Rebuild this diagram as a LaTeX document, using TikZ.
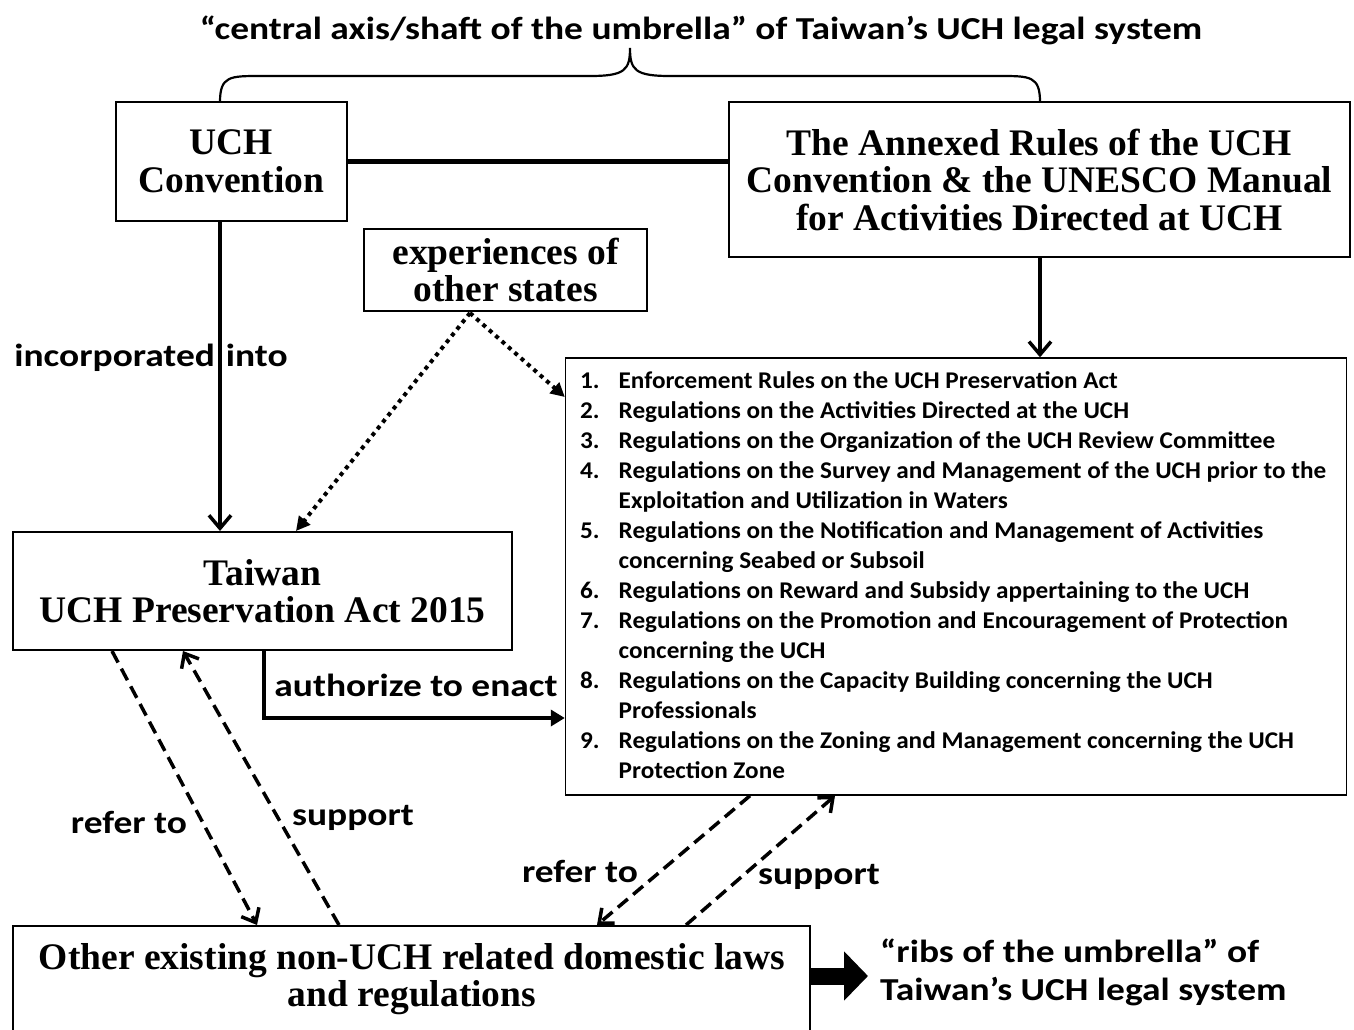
\documentclass[tikz,border=0pt]{standalone}
\usepackage{fontspec}
\setmainfont{Liberation Serif}
\newfontfamily\cali{Carlito}[FakeStretch=1.17]
\newfontfamily\calilist{Carlito}[FakeStretch=1.05]
\usetikzlibrary{arrows.meta}
\tikzset{
  box/.style={draw, line width=2pt, inner sep=0pt, align=center,
    font=\bfseries\fontsize{37.5}{37.5}\selectfont},
  lbl/.style={inner sep=0pt, font=\cali\bfseries\fontsize{32}{38}\selectfont},
  solidarr/.style={line width=3.5pt, -{Straight Barb[length=13pt,width=22pt,line width=3.5pt]}},
  dasharr/.style={line width=3.5pt, dash pattern=on 13pt off 7pt,
    -{Straight Barb[length=12pt,width=20pt,line width=3.5pt]}},
  dotarr/.style={line width=4pt, dash pattern=on 4pt off 4.5pt,
    -{Triangle[length=14pt,width=14pt]}},
}
\begin{document}
\begin{tikzpicture}[x=1pt,y=-1pt]
\useasboundingbox[fill=white] (0,0) rectangle (1354,1029);

% title
\node[lbl] (title) at (701,30)
  {“central axis/shaft of the umbrella” of Taiwan’s UCH legal system};

% boxes
\node[box, minimum width=231pt, minimum height=119pt] (uch) at (231.5,161.5)
  {UCH\\Convention};
\node[box, minimum width=621pt, minimum height=155pt] (annex) at (1039.5,179.5)
  {The Annexed Rules of the UCH\\Convention \& the UNESCO Manual\\for Activities Directed at UCH};
\node[box, minimum width=283pt, minimum height=82pt] (exp) at (505.5,270)
  {experiences of\\other states};
\node[draw, line width=1.4pt, minimum width=781pt, minimum height=437pt, inner sep=0pt] (list) at (956,576.5) {};
\node[box, minimum width=499pt, minimum height=118pt] (taiwan) at (262.5,591)
  {Taiwan\\UCH Preservation Act 2015};
\node[draw, line width=2pt, minimum width=797pt, minimum height=120pt, inner sep=0pt] (other) at (411.5,986) {};
\node[inner sep=0pt, align=center, font=\bfseries\fontsize{37.5}{37.5}\selectfont] (othertext) at (412,979)
  {Other existing non-UCH related domestic laws\\and regulations};

% list items
\node[anchor=base west, inner sep=0pt] (items) at (580,388)
  {\calilist\bfseries\fontsize{24}{30}\selectfont
   \begin{tabular}[t]{@{}p{38.5pt}@{}l@{}}
   1. & Enforcement Rules on the UCH Preservation Act\\
   2. & Regulations on the Activities Directed at the UCH\\
   3. & Regulations on the Organization of the UCH Review Committee\\
   4. & Regulations on the Survey and Management of the UCH prior to the\\
      & Exploitation and Utilization in Waters\\
   5. & Regulations on the Notification and Management of Activities\\
      & concerning Seabed or Subsoil\\
   6. & Regulations on Reward and Subsidy appertaining to the UCH\\
   7. & Regulations on the Promotion and Encouragement of Protection\\
      & concerning the UCH\\
   8. & Regulations on the Capacity Building concerning the UCH\\
      & Professionals\\
   9. & Regulations on the Zoning and Management concerning the UCH\\
      & Protection Zone
   \end{tabular}};

% brace
\coordinate (bl) at (220,102);
\coordinate (br) at (1040,102);
\coordinate (btip) at (630,48);
\draw[line width=2.2pt] (bl) .. controls (220,76) and (230,76) .. (260,76) -- (590,76)
  .. controls (625,76) and (630,70) .. (btip)
  .. controls (630,70) and (635,76) .. (670,76) -- (1000,76)
  .. controls (1030,76) and (1040,76) .. (br);

% connectors
\draw[line width=5.5pt] (uch.east) -- (annex.west |- uch.east);
\draw[solidarr] (uch.south -| 220,0) -- (taiwan.north -| 220,0);
\node[lbl] (incorp) at (151,358) {incorporated\hspace{11pt}into};
\draw[solidarr] (annex.south -| 1040,0) -- (list.north -| 1040,0);

\coordinate (expb) at (470,313);
\draw[dotarr] (expb) -- (taiwan.north -| 296,0);
\draw[dotarr] (expb) -- (list.west |- 0,397);

\coordinate (authc) at (264,718);
\draw[line width=3.5pt, -{Triangle[length=14pt,width=16pt]}] (taiwan.south -| 264,0) -- (authc) -- (list.west |- authc);
\node[lbl] (auth) at (416,685) {authorize to enact};

\draw[dasharr] (taiwan.south -| 112,0) -- (other.north -| 257,0);
\draw[dasharr] (other.north -| 339,0) -- (taiwan.south -| 183,0);
\node[lbl] (ref1) at (129,822) {refer to};
\node[lbl] (sup1) at (353,818) {support};

\draw[dasharr] (list.south -| 750,0) -- (other.north -| 597,0);
\draw[dasharr] (other.north -| 686,0) -- (list.south -| 835,0);
\node[lbl] (ref2) at (580,871) {refer to};
\node[lbl] (sup2) at (819,877) {support};

% big arrow
\coordinate (bigtip) at (868,976);
\draw[line width=17pt, -{Triangle[length=24pt,width=48pt]}] (other.east |- bigtip) -- (bigtip);
\node[lbl, align=left, anchor=west] (ribs) at (880,972)
  {“ribs of the umbrella” of\\Taiwan’s UCH legal system};
\end{tikzpicture}
\end{document}
